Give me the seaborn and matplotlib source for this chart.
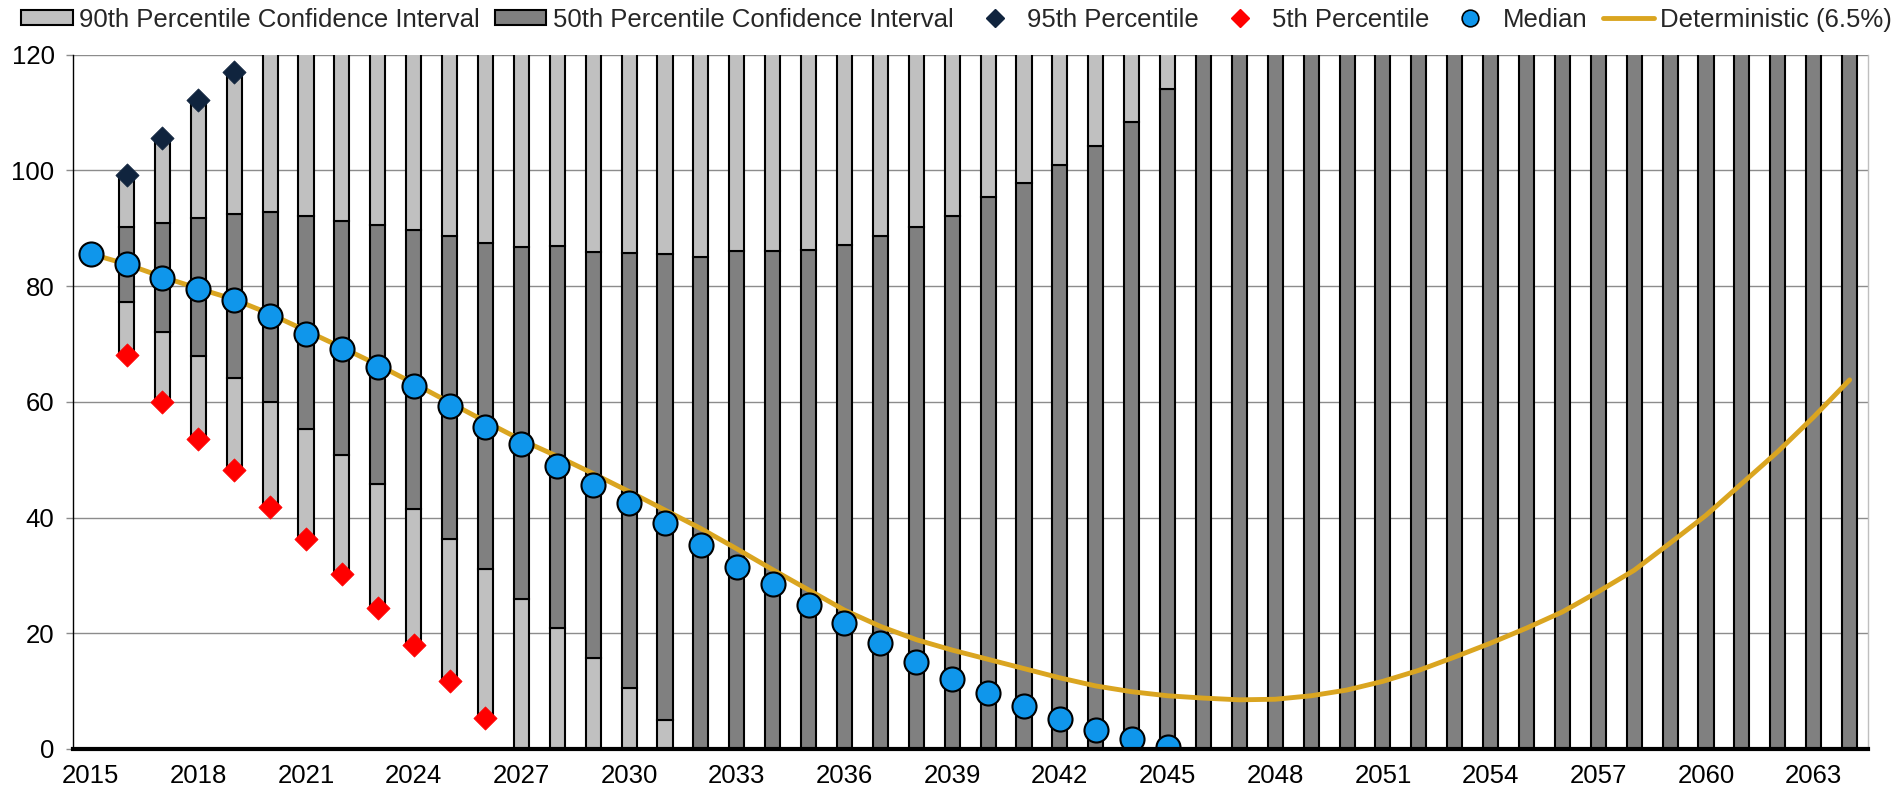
import numpy as np
import pandas as pd
import matplotlib
matplotlib.use("Agg")
import matplotlib.pyplot as plt
import seaborn as sns
from matplotlib.patches import Patch
from matplotlib.lines import Line2D

# ---------------------------------------------------------------------------
# Projection data (one value per year). HI / LO mark values that fall beyond
# the top / bottom of the value axis; NA means no value for that year.
# ---------------------------------------------------------------------------
HI = np.inf
LO = -np.inf
NA = np.nan

years = list(range(2015, 2065))

p95 = [NA, 99.2, 105.6, 112.2, 117.1,
       HI, HI, HI, HI, HI, HI, HI, HI, HI, HI,
       HI, HI, HI, HI, HI, HI, HI, HI, HI, HI,
       HI, HI, HI, HI, HI, HI, HI, HI, HI, HI,
       HI, HI, HI, HI, HI, HI, HI, HI, HI, HI,
       HI, HI, HI, HI, HI]

p75 = [NA, 90.3, 91.0, 91.8, 92.4,
       92.9, 92.1, 91.3, 90.6, 89.7, 88.7, 87.5, 86.8, 87.0, 85.9,
       85.8, 85.6, 85.0, 86.0, 86.1, 86.3, 87.1, 88.7, 90.2, 92.1,
       95.4, 97.9, 101.0, 104.2, 108.3, 114.1, HI, HI, HI, HI,
       HI, HI, HI, HI, HI, HI, HI, HI, HI, HI,
       HI, HI, HI, HI, HI]

p25 = [NA, 77.2, 72.1, 68.0, 64.1,
       59.9, 55.3, 50.9, 45.8, 41.4, 36.3, 31.1, 26.0, 20.9, 15.8,
       10.6, 5.0, LO, LO, LO, LO, LO, LO, LO, LO,
       LO, LO, LO, LO, LO, LO, LO, LO, LO, LO,
       LO, LO, LO, LO, LO, LO, LO, LO, LO, LO,
       LO, LO, LO, LO, LO]

p5 = [NA, 68.1, 59.9, 53.6, 48.3,
      41.8, 36.3, 30.2, 24.3, 17.9, 11.7, 5.4, LO, LO, LO,
      LO, LO, LO, LO, LO, LO, LO, LO, LO, LO,
      LO, LO, LO, LO, LO, LO, LO, LO, LO, LO,
      LO, LO, LO, LO, LO, LO, LO, LO, LO, LO,
      LO, LO, LO, LO, LO]

median = [85.6, 83.8, 81.4, 79.5, 77.6,
          74.8, 71.8, 69.1, 66.0, 62.7, 59.2, 55.7, 52.7, 48.9, 45.7,
          42.5, 39.0, 35.2, 31.5, 28.5, 24.9, 21.7, 18.3, 15.1, 12.1,
          9.6, 7.4, 5.1, 3.3, 1.7, 0.4, LO, LO, LO, LO,
          LO, LO, LO, LO, LO, LO, LO, LO, LO, LO,
          LO, LO, LO, LO, LO]

deterministic = [85.6, 83.8, 81.6, 79.6, 77.7,
                 75.2, 72.3, 69.4, 66.4, 63.2, 59.9, 56.6, 53.4, 50.6, 47.6,
                 44.5, 41.3, 38.1, 34.6, 31.0, 27.5, 24.0, 21.2, 18.9, 17.1,
                 15.5, 13.9, 12.3, 10.9, 9.9, 9.2, 8.8, 8.5, 8.6, 9.2,
                 10.2, 11.7, 13.6, 15.9, 18.3, 20.9, 23.7, 27.2, 30.9, 35.6,
                 40.4, 45.9, 51.4, 57.4, 63.8]

y_ticks = [0, 20, 40, 60, 80, 100, 120]
x_label_years = years[::3]

legend_labels = ["90th Percentile Confidence Interval",
                 "50th Percentile Confidence Interval",
                 "95th Percentile", "5th Percentile", "Median",
                 "Deterministic (6.5%)"]

# ---------------------------------------------------------------------------
# Styling
# ---------------------------------------------------------------------------
LIGHT = "#C0C0C0"
DARK = "#808080"
NAVY = "#10243E"
RED = "#FF0000"
BLUE = "#0F96EB"
GOLD = "#DAA520"
FONT_SIZE = 18.5

sns.set_style("white")
plt.rcParams["font.family"] = ["Liberation Sans", "DejaVu Sans"]

Y_MIN, Y_MAX = y_ticks[0], y_ticks[-1]

df = pd.DataFrame({
    "year": [str(y) for y in years],
    "p5": p5, "p25": p25, "p75": p75, "p95": p95,
    "median": median, "deterministic": deterministic,
})
df["pos"] = np.arange(len(df))

# Off-scale values are drawn just past the visible range so they get clipped.
for col in ["p5", "p25", "p75", "p95"]:
    df[col + "_d"] = df[col].clip(Y_MIN - 5, Y_MAX + 5)

bars = df[~df["p95"].isna()].copy()
bars["h_low"] = bars["p25_d"] - bars["p5_d"]
bars["h_mid"] = bars["p75_d"] - bars["p25_d"]
bars["h_top"] = bars["p95_d"] - bars["p75_d"]

order = [str(y) for y in years]

fig = plt.figure(figsize=(19.02, 7.91), dpi=100)
ax = fig.add_axes([0.0382, 0.0531, 0.9437, 0.8777])

bar_kw = dict(order=order, width=0.42, saturation=1, edgecolor="black",
              linewidth=1.5, errorbar=None, ax=ax, zorder=2)
sns.barplot(data=bars, x="year", y="h_low", bottom=bars["p5_d"].to_numpy(),
            color=LIGHT, **bar_kw)
sns.barplot(data=bars, x="year", y="h_mid", bottom=bars["p25_d"].to_numpy(),
            color=DARK, **bar_kw)
sns.barplot(data=bars, x="year", y="h_top", bottom=bars["p75_d"].to_numpy(),
            color=LIGHT, **bar_kw)

# Deterministic projection
sns.lineplot(data=df, x="pos", y="deterministic", color=GOLD, linewidth=3.5,
             ax=ax, zorder=3)

# Percentile markers (only those inside the visible range)
def visible(col):
    return df[np.isfinite(df[col])]

sns.scatterplot(data=visible("median"), x="pos", y="median", s=300,
                color=BLUE, edgecolor="black", linewidth=1.5, ax=ax,
                zorder=4)
sns.scatterplot(data=visible("p95"), x="pos", y="p95", marker="D", s=140,
                color=NAVY, edgecolor=NAVY, linewidth=0.5, ax=ax, zorder=5)
sns.scatterplot(data=visible("p5"), x="pos", y="p5", marker="D", s=140,
                color=RED, edgecolor=RED, linewidth=0.5, ax=ax, zorder=5)

# Axes
ax.set_xlim(-0.5, len(years) - 0.5)
ax.set_ylim(Y_MIN, Y_MAX)
ax.set_yticks(y_ticks)
ax.set_yticklabels([str(v) for v in y_ticks])
ax.set_xticks([years.index(y) for y in x_label_years])
ax.set_xticklabels([str(y) for y in x_label_years])
ax.set_xlabel("")
ax.set_ylabel("")

ax.yaxis.grid(True, color="#8C8C8C", linewidth=1.0)
ax.xaxis.grid(False)
ax.set_axisbelow(True)

ax.tick_params(axis="y", length=5, width=1, color="#8C8C8C", pad=8,
               labelsize=FONT_SIZE, labelcolor="black", left=True)
ax.tick_params(axis="x", length=0, pad=11, labelsize=FONT_SIZE,
               labelcolor="black", bottom=True)

ax.spines["top"].set_visible(False)
ax.spines["left"].set_color("black")
ax.spines["left"].set_linewidth(1.0)
ax.spines["bottom"].set_color("black")
ax.spines["bottom"].set_linewidth(3.0)
ax.spines["bottom"].set_zorder(6)
ax.spines["right"].set_color("#BFBFBF")
ax.spines["right"].set_linewidth(1.0)

if ax.get_legend() is not None:
    ax.get_legend().remove()

handles = [
    Patch(facecolor=LIGHT, edgecolor="black", linewidth=1.5),
    Patch(facecolor=DARK, edgecolor="black", linewidth=1.5),
    Line2D([], [], linestyle="none", marker="D", markersize=9,
           markerfacecolor=NAVY, markeredgecolor=NAVY),
    Line2D([], [], linestyle="none", marker="D", markersize=9,
           markerfacecolor=RED, markeredgecolor=RED),
    Line2D([], [], linestyle="none", marker="o", markersize=12,
           markerfacecolor=BLUE, markeredgecolor="black", markeredgewidth=1.2),
    Line2D([], [], color=GOLD, linewidth=3.5),
]
fig.legend(handles, legend_labels, loc="upper left",
           bbox_to_anchor=(0.003, 1.01), ncol=6, frameon=False,
           fontsize=FONT_SIZE, handlelength=2.0, handleheight=0.55,
           handletextpad=0.25, columnspacing=0.6, borderaxespad=0.2)

fig.savefig("out.png", dpi=100)
